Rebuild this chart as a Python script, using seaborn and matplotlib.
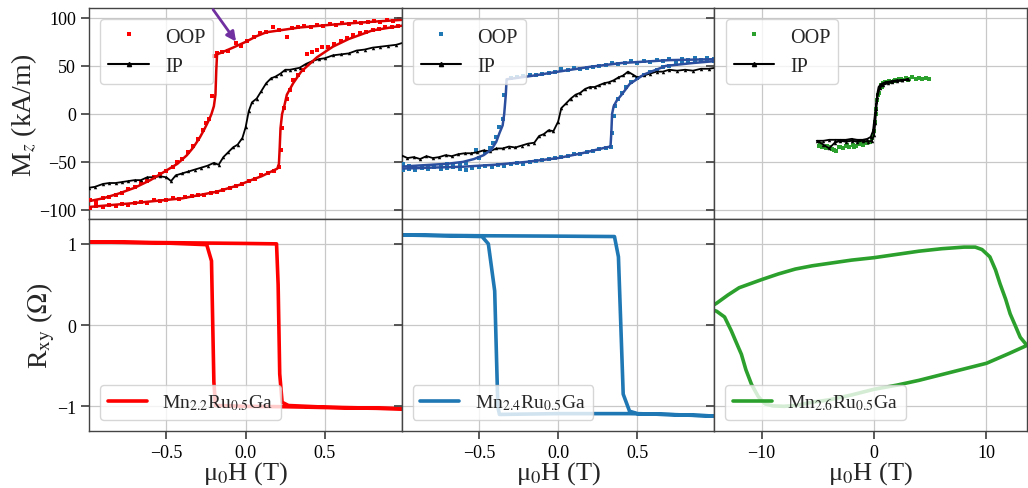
import numpy as np
import pandas as pd
import matplotlib
matplotlib.use("Agg")
import matplotlib.pyplot as plt
import seaborn as sns
from matplotlib.lines import Line2D

# ---------------- data ----------------
# Panel 1: Mn2.2Ru0.5Ga
fit1_dn_x = [0.99, 0.8, 0.55, 0.34, 0.13, 0.07, 0.0, -0.08, -0.15, -0.18, -0.185, -0.19, -0.2, -0.215, -0.23, -0.26, -0.29, -0.33, -0.37, -0.43, -0.5, -0.6, -0.7, -0.8, -0.9, -0.99]
fit1_dn_y = [98, 96, 93, 90, 85, 81, 75, 69, 64, 62, 45, 20, 8, 0, -6, -16, -25, -35, -43, -52, -59, -69, -77, -83, -88, -91]
fit1_up_x = [-0.99, -0.71, -0.4, -0.18, -0.04, 0.05, 0.1, 0.15, 0.2, 0.21, 0.215, 0.22, 0.23, 0.245, 0.26, 0.3, 0.35, 0.45, 0.55, 0.65, 0.8, 0.99]
fit1_up_y = [-97, -93, -88, -81, -74, -68, -65, -61, -57, -52, -35, -15, 0, 9, 20, 32, 44, 59, 70, 78, 87, 92]
oop1_x = [0.97, 0.93, 0.89, 0.85, 0.81, 0.77, 0.73, 0.69, 0.65, 0.61, 0.57, 0.53, 0.49, 0.45, 0.41, 0.37, 0.33, 0.29, 0.26, 0.21, 0.17, 0.13, 0.09, 0.05, 0.01, -0.03, -0.06, -0.11, -0.15, -0.18, -0.2, -0.21, -0.23, -0.25, -0.27, -0.3, -0.33, -0.36, -0.4, -0.43, -0.46, -0.5, -0.54, -0.58, -0.62, -0.66, -0.7, -0.74, -0.78, -0.82, -0.86, -0.9, -0.94, -0.98,
          -0.98, -0.94, -0.9, -0.86, -0.82, -0.78, -0.74, -0.7, -0.66, -0.62, -0.58, -0.54, -0.5, -0.46, -0.42, -0.38, -0.34, -0.3, -0.26, -0.22, -0.18, -0.14, -0.1, -0.06, -0.02, 0.02, 0.06, 0.1, 0.14, 0.18, 0.21, 0.22, 0.23, 0.24, 0.26, 0.28, 0.3, 0.33, 0.36, 0.39, 0.42, 0.45, 0.48, 0.52, 0.56, 0.6, 0.64, 0.68, 0.72, 0.76, 0.8, 0.84, 0.88, 0.92, 0.96]
oop1_y = [99, 97, 98, 96, 97, 96, 95, 96, 94, 95, 93, 94, 92, 93, 91, 92, 90, 89, 80, 87, 90, 85, 84, 80, 76, 71, 74, 66, 64, 63, 60, 19, -5, -10, -17, -26, -33, -40, -47, -50, -55, -59, -63, -66, -70, -72, -76, -78, -82, -84, -87, -88, -92, -90,
          -98, -96, -97, -95, -96, -94, -95, -93, -92, -93, -90, -91, -90, -88, -89, -87, -86, -85, -84, -82, -81, -79, -77, -75, -73, -70, -68, -64, -62, -59, -55, -38, -15, 6, 15, 25, 35, 40, 46, 62, 64, 67, 70, 70, 73, 76, 79, 82, 84, 85, 87, 88, 90, 91, 92]
ip1_x = [-0.99, -0.95, -0.9, -0.86, -0.82, -0.78, -0.74, -0.7, -0.66, -0.62, -0.58, -0.54, -0.5, -0.47, -0.44, -0.4, -0.36, -0.32, -0.28, -0.24, -0.2, -0.17, -0.14, -0.11, -0.08, -0.05, -0.02, 0.0, 0.02, 0.04, 0.07, 0.1, 0.13, 0.16, 0.19, 0.22, 0.25, 0.28, 0.31, 0.34, 0.38, 0.42, 0.46, 0.5, 0.55, 0.6, 0.65, 0.7, 0.75, 0.8, 0.85, 0.9, 0.95, 0.99]
ip1_y = [-77, -76, -73, -72, -72, -71, -70, -69, -69, -66, -66, -65, -66, -70, -64, -62, -60, -58, -56, -54, -51, -53, -45, -40, -35, -32, -25, -14, 3, 12, 16, 24, 32, 37, 39, 42, 46, 46, 47, 48, 52, 55, 57, 58, 61, 62, 63, 66, 67, 69, 70, 71, 72, 74]
rxy1_x = [1.0, 0.5, 0.25, 0.0, -0.19, -0.2, -0.215, -0.245, -0.5, -1.0, -0.5, 0.0, 0.195, 0.205, 0.215, 0.23, 0.27, 0.5, 1.0]
rxy1_y = [-1.03, -1.015, -1.005, -1.0, -0.99, -0.7, 0.79, 0.99, 1.01, 1.025, 1.015, 1.005, 1.0, 0.5, -0.6, -0.95, -0.99, -1.01, -1.03]

# Panel 2: Mn2.4Ru0.5Ga
fit2_dn_x = [0.99, 0.7, 0.4, 0.2, 0.0, -0.15, -0.28, -0.325, -0.33, -0.34, -0.35, -0.37, -0.39, -0.42, -0.47, -0.53, -0.6, -0.7, -0.8, -0.9, -0.99]
fit2_dn_y = [57, 56, 53, 49, 44, 40, 37, 36, 20, 0, -12, -20, -29, -37, -43, -47, -50, -52, -53, -54, -55]
fit2_up_x = [-0.99, -0.8, -0.6, -0.4, -0.2, 0.0, 0.15, 0.3, 0.33, 0.335, 0.34, 0.35, 0.37, 0.4, 0.45, 0.54, 0.68, 0.85, 0.99]
fit2_up_y = [-57, -56, -55, -53, -50, -46, -41, -35, -34, -20, 0, 8, 14, 20, 31, 41, 50, 53, 55]
oop2_x = [0.98, 0.94, 0.9, 0.86, 0.82, 0.78, 0.74, 0.7, 0.66, 0.62, 0.58, 0.54, 0.5, 0.46, 0.42, 0.38, 0.34, 0.3, 0.26, 0.22, 0.18, 0.14, 0.1, 0.06, 0.02, -0.02, -0.06, -0.1, -0.14, -0.18, -0.22, -0.26, -0.3, -0.34, -0.35, -0.37, -0.39, -0.41, -0.43, -0.46, -0.5, -0.52, -0.58, -0.62, -0.66, -0.7, -0.74, -0.78, -0.82, -0.86, -0.9, -0.94, -0.98,
          -0.98, -0.94, -0.9, -0.86, -0.82, -0.78, -0.74, -0.7, -0.66, -0.62, -0.58, -0.54, -0.5, -0.46, -0.42, -0.38, -0.34, -0.3, -0.26, -0.22, -0.18, -0.14, -0.1, -0.06, -0.02, 0.02, 0.06, 0.1, 0.14, 0.18, 0.22, 0.26, 0.3, 0.33, 0.34, 0.35, 0.36, 0.38, 0.4, 0.43, 0.46, 0.5, 0.54, 0.58, 0.62, 0.66, 0.7, 0.74, 0.78, 0.82, 0.86, 0.9, 0.94, 0.98]
oop2_y = [57, 58, 56, 58, 56, 57, 55, 57, 55, 56, 54, 55, 53, 55, 53, 52, 53, 51, 50, 49, 48, 47, 48, 46, 47, 44, 43, 42, 41, 40, 39, 38, 37, 20, -5, -14, -24, -30, -36, -40, -46, -38, -51, -52, -53, -52, -55, -54, -56, -55, -56, -54, -52,
          -58, -57, -58, -56, -57, -55, -57, -56, -55, -57, -58, -56, -55, -54, -55, -53, -54, -52, -51, -52, -50, -49, -48, -47, -46, -45, -44, -42, -42, -40, -39, -37, -36, -34, -20, -2, 8, 15, 22, 28, 33, 37, 41, 44, 46, 49, 50, 52, 53, 54, 55, 55, 56, 55]
ip2_x = [-0.99, -0.95, -0.91, -0.87, -0.83, -0.79, -0.75, -0.71, -0.67, -0.63, -0.59, -0.55, -0.51, -0.47, -0.43, -0.39, -0.35, -0.31, -0.27, -0.23, -0.19, -0.15, -0.12, -0.09, -0.06, -0.03, 0.0, 0.02, 0.05, 0.08, 0.11, 0.14, 0.17, 0.2, 0.23, 0.26, 0.29, 0.32, 0.35, 0.38, 0.41, 0.44, 0.47, 0.5, 0.54, 0.58, 0.62, 0.66, 0.7, 0.75, 0.8, 0.85, 0.9, 0.95, 0.99]
ip2_y = [-43, -46, -45, -47, -44, -46, -45, -43, -44, -42, -41, -41, -40, -38, -39, -36, -36, -34, -35, -33, -31, -30, -23, -21, -17, -18, -8, 6, 11, 16, 20, 22, 26, 28, 28, 30, 32, 33, 35, 38, 40, 44, 41, 38, 40, 42, 44, 44, 46, 45, 46, 45, 47, 47, 48]
rxy2_x = [1.0, 0.7, 0.45, 0.0, -0.37, -0.38, -0.4, -0.44, -0.48, -1.0, -0.5, 0.0, 0.355, 0.38, 0.41, 0.45, 0.5, 1.0]
rxy2_y = [-1.12, -1.1, -1.09, -1.09, -1.1, -1.01, 0.42, 1.0, 1.09, 1.11, 1.1, 1.095, 1.09, 0.84, -0.85, -1.06, -1.09, -1.12]

# Panel 3: Mn2.6Ru0.5Ga
oop3_x = [-4.9, -4.6, -4.3, -4.0, -3.7, -3.4, -3.1, -2.8, -2.5, -2.2, -1.9, -1.6, -1.3, -1.0, -0.7, -0.4, -0.2, 0.0, 0.1, 0.2, 0.3, 0.4, 0.5, 0.6, 0.8, 1.0, 1.3, 1.6, 1.9, 2.2, 2.5, 2.8, 3.1, 3.4, 3.7, 4.0, 4.3, 4.6, 4.9,
          -4.8, -4.2, -3.6, -3.0, -2.4, -1.8, -1.2, -0.6, -0.1, 0.15, 0.35, 0.7, 1.2, 1.8, 2.4, 3.0]
oop3_y = [-33, -35, -36, -34, -37, -39, -35, -36, -33, -34, -32, -33, -31, -32, -30, -29, -25, -18, -8, 5, 14, 22, 27, 30, 32, 33, 34, 33, 35, 36, 35, 37, 36, 38, 36, 37, 36, 37, 36,
          -31, -33, -38, -35, -32, -34, -31, -30, -22, 0, 20, 28, 33, 34, 36, 35]
ip3_x = [3.0, 2.5, 2.0, 1.5, 1.0, 0.6, 0.4, 0.3, 0.2, 0.1, 0.0, -0.1, -0.3, -0.6, -1.0, -1.5, -2.0, -2.5, -3.0, -3.5, -4.0, -4.5, -5.1, -4.5, -4.0, -3.5, -3.0, -2.5, -2.0, -1.5, -1.0, -0.5, -0.2, 0.0, 0.1, 0.2, 0.3, 0.5, 0.8, 1.2, 1.6, 2.0, 2.5, 3.0]
ip3_y = [36, 35, 35, 34, 33, 31, 28, 22, 12, 2, -8, -18, -24, -26, -27, -27, -26, -27, -27, -27, -27, -28, -28, -32, -36, -30, -28, -29, -28, -29, -28, -29, -28, -22, -10, 5, 18, 27, 30, 32, 33, 34, 35, 36]
rxy3_x = [-14.6, -14.0, -13.0, -12.0, -11.0, -10.0, -8.5, -7.0, -5.5, -4.0, -2.0, 0.0, 2.0, 4.0, 6.0, 8.0, 9.0, 9.6, 10.3, 10.8, 11.2, 11.7, 12.1, 12.6, 13.0, 13.6,
          12.0, 10.0, 8.0, 6.0, 4.0, 2.0, 0.0, -2.0, -4.0, -5.5, -7.0, -8.0, -9.0, -9.7, -10.3, -10.9, -11.4, -11.8, -12.3, -12.7, -13.3, -14.0, -14.6]
rxy3_y = [0.22, 0.27, 0.37, 0.46, 0.51, 0.56, 0.63, 0.69, 0.73, 0.76, 0.80, 0.83, 0.87, 0.91, 0.94, 0.96, 0.96, 0.93, 0.84, 0.68, 0.51, 0.32, 0.14, -0.02, -0.15, -0.25,
          -0.35, -0.47, -0.54, -0.61, -0.68, -0.74, -0.79, -0.86, -0.92, -0.95, -0.99, -1.0, -0.995, -0.97, -0.88, -0.73, -0.55, -0.36, -0.2, -0.07, 0.1, 0.17, 0.2]

sample_labels = [r"Mn$_{2.2}$Ru$_{0.5}$Ga", r"Mn$_{2.4}$Ru$_{0.5}$Ga", r"Mn$_{2.6}$Ru$_{0.5}$Ga"]
m_ticks = [-100, -50, 0, 50, 100]
r_ticks = [-1, 0, 1]

# ---------------- style ----------------
sns.set_theme(style="ticks", rc={
    "axes.grid": True, "grid.color": "#c8c8c8", "grid.linewidth": 0.9,
    "axes.edgecolor": "#444444", "axes.linewidth": 1.0,
    "xtick.color": "#444444", "ytick.color": "#444444",
    "xtick.labelcolor": "black", "ytick.labelcolor": "black",
})
plt.rcParams["font.family"] = ["Liberation Serif", "DejaVu Serif"]
plt.rcParams["mathtext.fontset"] = "stix"
plt.rcParams["axes.unicode_minus"] = True

fig, axes = plt.subplots(2, 3, figsize=(10.28, 4.89), dpi=100, sharex="col", sharey="row")
fig.subplots_adjust(left=0.0869, right=0.999, top=0.981, bottom=0.1172, wspace=0, hspace=0)

colors = ["#ff0000", "#1f77b4", "#2ca02c"]
fit_colors = ["#dd0000", "#2b4f9e"]

def line(ax, xs, ys, **kw):
    df = pd.DataFrame({"x": xs, "y": ys})
    sns.lineplot(data=df, x="x", y="y", sort=False, estimator=None, ax=ax, **kw)

def pts(ax, xs, ys, color):
    sns.scatterplot(x=xs, y=ys, ax=ax, marker="s", s=10, color=color, linewidth=0, zorder=3)

oop = [(oop1_x, oop1_y), (oop2_x, oop2_y), (oop3_x, oop3_y)]
ips = [(ip1_x, ip1_y), (ip2_x, ip2_y), (ip3_x, ip3_y)]
fits = [[(fit1_dn_x, fit1_dn_y), (fit1_up_x, fit1_up_y)], [(fit2_dn_x, fit2_dn_y), (fit2_up_x, fit2_up_y)], []]
rxy = [(rxy1_x, rxy1_y), (rxy2_x, rxy2_y), (rxy3_x, rxy3_y)]

for i in range(3):
    ax = axes[0, i]
    pts(ax, oop[i][0], oop[i][1], colors[i])
    line(ax, ips[i][0], ips[i][1], color="black", lw=1.3, marker="^", markersize=2.5,
         markeredgewidth=0, zorder=4)
    for fx, fy in fits[i]:
        line(ax, fx, fy, color=fit_colors[i], lw=1.8, zorder=5)
    handles = [Line2D([], [], ls="none", marker="s", markersize=3.5, color=colors[i], markeredgewidth=0),
               Line2D([], [], color="black", lw=1.5, marker="^", markersize=3)]
    ax.legend(handles, ["OOP", "IP"], loc="upper left", fontsize=14.5, handlelength=2.0,
              borderaxespad=0.55)

    axb = axes[1, i]
    line(axb, rxy[i][0], rxy[i][1], color=colors[i], lw=2.6)
    axb.legend([Line2D([], [], color=colors[i], lw=2.6)], [sample_labels[i]],
               loc="lower left", fontsize=14, borderaxespad=0.55)
    axb.set_xlabel("μ$_0$H (T)", fontsize=19, labelpad=-1)
    ax.set_xlabel("")
    ax.set_ylabel("")
    axb.set_ylabel("")

axes[0, 0].set_ylim(-110, 110)
axes[0, 0].set_yticks(m_ticks)
axes[1, 0].set_ylim(-1.3, 1.3)
axes[1, 0].set_yticks(r_ticks)
axes[1, 0].set_xlim(-0.985, 0.985)
axes[1, 1].set_xlim(-0.985, 0.985)
axes[1, 2].set_xlim(-14.2, 13.6)
for j in range(2):
    axes[1, j].set_xticks([-0.5, 0.0, 0.5])
axes[1, 2].set_xticks([-10, 0, 10])

axes[0, 0].set_ylabel("M$_z$ (kA/m)", fontsize=20, labelpad=0)
axes[1, 0].set_ylabel(r"R$_{\mathrm{xy}}$ ($\Omega$)", fontsize=20, labelpad=0)

for ax in axes.flat:
    ax.tick_params(labelsize=13)

axes[0, 0].annotate("", xy=(-0.05, 73), xytext=(-0.215, 111), xycoords="data",
                    arrowprops=dict(arrowstyle="-|>", color="#7030a0", lw=2, mutation_scale=14),
                    annotation_clip=False, zorder=10)

fig.savefig("out.png", dpi=100)
